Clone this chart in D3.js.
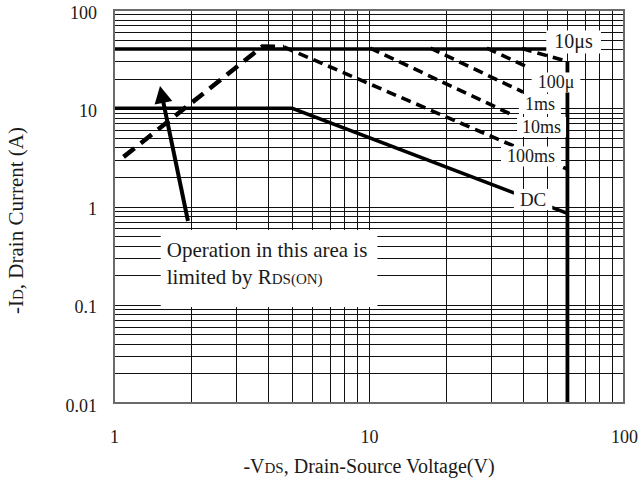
<!DOCTYPE html>
<html>
<head>
<meta charset="utf-8">
<script src="https://cdn.jsdelivr.net/npm/d3@7"></script>
<style>
  html, body { margin: 0; padding: 0; background: #fff; }
  svg { display: block; }
  text { font-family: "Liberation Serif", "Times New Roman", serif; fill: #1a1a1a; }
</style>
</head>
<body>
<svg id="chart" width="642" height="481"></svg>
<script>
// Safe operating area: -VDS (V) against -ID (A), both on log scales.

// Axis ticks
const xTickValues = [1, 10, 100];
const xTickLabels = ["1", "10", "100"];
const yTickValues = [0.01, 0.1, 1, 10, 100];
const yTickLabels = ["0.01", "0.1", "1", "10", "100"];

// Boundary curves, [volts, amps]
const rdsOnLimit = [[1.09, 3.2], [3.82, 42.5], [4.64, 42]];
const pulse100ms = [[4.64, 42], [60, 2.4]];
const pulse10ms = [[10.1, 41], [36.7, 8.5]];
const pulse1ms = [[17.4, 41], [40.2, 14.6]];
const pulse100us = [[29, 41], [42.8, 25.5]];
const pulse10us = [[39.8, 40.5], [60, 30]];
const pulsedCurrentMax = [[1, 40], [60, 40]];
const dcLimit = [[1, 10], [5, 10], [60, 0.85]];
const vdsMax = [[60, 30], [60, 0.01]];

// Curve names
const curveNames = ["10μs", "100μ", "1ms", "10ms", "100ms", "DC"];

const svg = d3.select("#chart");
const margin = { left: 114, right: 18, top: 10, bottom: 78 };
const W = 642, H = 481;

const x = d3.scaleLog().domain([1, 100]).range([margin.left, W - margin.right]);
const y = d3.scaleLog().domain([0.01, 100]).range([H - margin.bottom, margin.top]);

// Grid: every 1..9 multiple of each decade
const grid = svg.append("g").attr("shape-rendering", "crispEdges");
grid.selectAll("line.gx").data(x.ticks()).join("line")
  .attr("class", "gx")
  .attr("x1", d => Math.round(x(d)) + 0.5).attr("x2", d => Math.round(x(d)) + 0.5)
  .attr("y1", y(0.01)).attr("y2", y(100))
  .attr("stroke", "#111").attr("stroke-width", 1);
grid.selectAll("line.gy").data(y.ticks()).join("line")
  .attr("class", "gy")
  .attr("y1", d => Math.round(y(d)) + 0.5).attr("y2", d => Math.round(y(d)) + 0.5)
  .attr("x1", x(1)).attr("x2", x(100))
  .attr("stroke", "#111").attr("stroke-width", 1);

// Curves
const line = d3.line().x(d => x(d[0])).y(d => y(d[1]));
const curves = svg.append("g").attr("fill", "none").attr("stroke", "#000");

function drawCurve(data, width, dash) {
  curves.append("path").datum(data)
    .attr("d", line)
    .attr("stroke-width", width)
    .attr("stroke-dasharray", dash || null)
    .attr("stroke-linecap", "butt")
    .attr("stroke-linejoin", "miter");
}

drawCurve(pulsedCurrentMax, 3.5);
drawCurve(dcLimit, 3.5);
drawCurve(vdsMax, 3.8);
drawCurve(rdsOnLimit, 4.5, "14,8");
drawCurve(pulse100ms, 3.6, "10,6");
drawCurve(pulse10ms, 3.6, "10,6");
drawCurve(pulse1ms, 3.6, "10,6");
drawCurve(pulse100us, 3.6, "10,6");
drawCurve(pulse10us, 3.6, "10,6");

// Plot frame
svg.append("rect")
  .attr("x", x(1)).attr("y", y(100))
  .attr("width", x(100) - x(1)).attr("height", y(0.01) - y(100))
  .attr("fill", "none").attr("stroke", "#6a6a6a").attr("stroke-width", 2);

// Curve labels on white boxes
const labelSpots = [
  { at: [63.4, 47.8], size: 20, padX: 8 },
  { at: [54.1, 18.3], size: 18, padX: 6 },
  { at: [46.8, 11.05], size: 18, padX: 6 },
  { at: [47.5, 6.45], size: 18, padX: 5 },
  { at: [43.2, 3.23], size: 18, padX: 6 },
  { at: [44.0, 1.18], size: 19, padX: 6 }
];
const labelLayer = svg.append("g");
curveNames.forEach((name, i) => {
  const spot = labelSpots[i];
  const g = labelLayer.append("g");
  const bg = g.append("rect").attr("fill", "#fff");
  const t = g.append("text")
    .attr("x", x(spot.at[0])).attr("y", y(spot.at[1]))
    .attr("text-anchor", "middle")
    .attr("dominant-baseline", "central")
    .attr("font-size", spot.size)
    .text(name);
  const b = t.node().getBBox();
  bg.attr("x", b.x - spot.padX).attr("y", b.y)
    .attr("width", b.width + 2 * spot.padX).attr("height", b.height);
});

// Note about the RDS(ON) region
const note = svg.append("g");
const noteBg = note.append("rect").attr("fill", "#fff");
const noteText = note.append("text")
  .attr("x", x(1.61)).attr("y", y(0.306))
  .attr("font-size", 21);
noteText.append("tspan").text("Operation in this area is");
const l2 = noteText.append("tspan").attr("x", x(1.61)).attr("dy", 27);
l2.append("tspan").text("limited by R");
l2.append("tspan").attr("font-size", 15).text("DS(ON)");
const nb = noteText.node().getBBox();
noteBg.attr("x", nb.x - 6).attr("y", nb.y - 8)
  .attr("width", nb.width + 16).attr("height", nb.height + 26);

// Arrow pointing into the RDS(ON) region
const tail = [x(1.95), y(0.712)];
const tip = [x(1.515), y(16.8)];
const dx = tip[0] - tail[0], dy = tip[1] - tail[1];
const len = Math.hypot(dx, dy);
const ux = dx / len, uy = dy / len;
const headLen = 17, headHalf = 9;
const base = [tip[0] - ux * headLen, tip[1] - uy * headLen];
svg.append("line")
  .attr("x1", tail[0]).attr("y1", tail[1])
  .attr("x2", base[0] + ux * 2).attr("y2", base[1] + uy * 2)
  .attr("stroke", "#000").attr("stroke-width", 4);
svg.append("polygon")
  .attr("points", [
    tip,
    [base[0] - uy * headHalf, base[1] + ux * headHalf],
    [base[0] + uy * headHalf, base[1] - ux * headHalf]
  ].map(p => p.join(",")).join(" "))
  .attr("fill", "#000");

// Axes (labels only)
const yAxis = d3.axisLeft(y).tickValues(yTickValues)
  .tickFormat((d, i) => yTickLabels[i]).tickSize(0).tickPadding(17);
const yg = svg.append("g").attr("transform", `translate(${x(1)},0)`).call(yAxis);
yg.select(".domain").remove();
yg.selectAll("text").attr("font-size", 18).attr("font-family", null).attr("fill", "#1a1a1a").attr("dy", "0.45em");

const xAxis = d3.axisBottom(x).tickValues(xTickValues)
  .tickFormat((d, i) => xTickLabels[i]).tickSize(0).tickPadding(27);
const xg = svg.append("g").attr("transform", `translate(0,${y(0.01)})`).call(xAxis);
xg.select(".domain").remove();
xg.selectAll("text").attr("font-size", 18).attr("font-family", null).attr("fill", "#1a1a1a");

// Axis titles
const xt = svg.append("text")
  .attr("x", (x(1) + x(100)) / 2).attr("y", 473)
  .attr("text-anchor", "middle").attr("font-size", 20);
xt.append("tspan").text("-V");
xt.append("tspan").attr("font-size", 15).text("DS");
xt.append("tspan").text(", Drain-Source Voltage(V)");

const yt = svg.append("text")
  .attr("transform", `translate(23,${(y(0.01) + y(100)) / 2 + 14}) rotate(-90)`)
  .attr("text-anchor", "middle").attr("font-size", 21);
yt.append("tspan").text("-I");
yt.append("tspan").attr("font-size", 15).text("D");
yt.append("tspan").text(", Drain Current (A)");
</script>
</body>
</html>
